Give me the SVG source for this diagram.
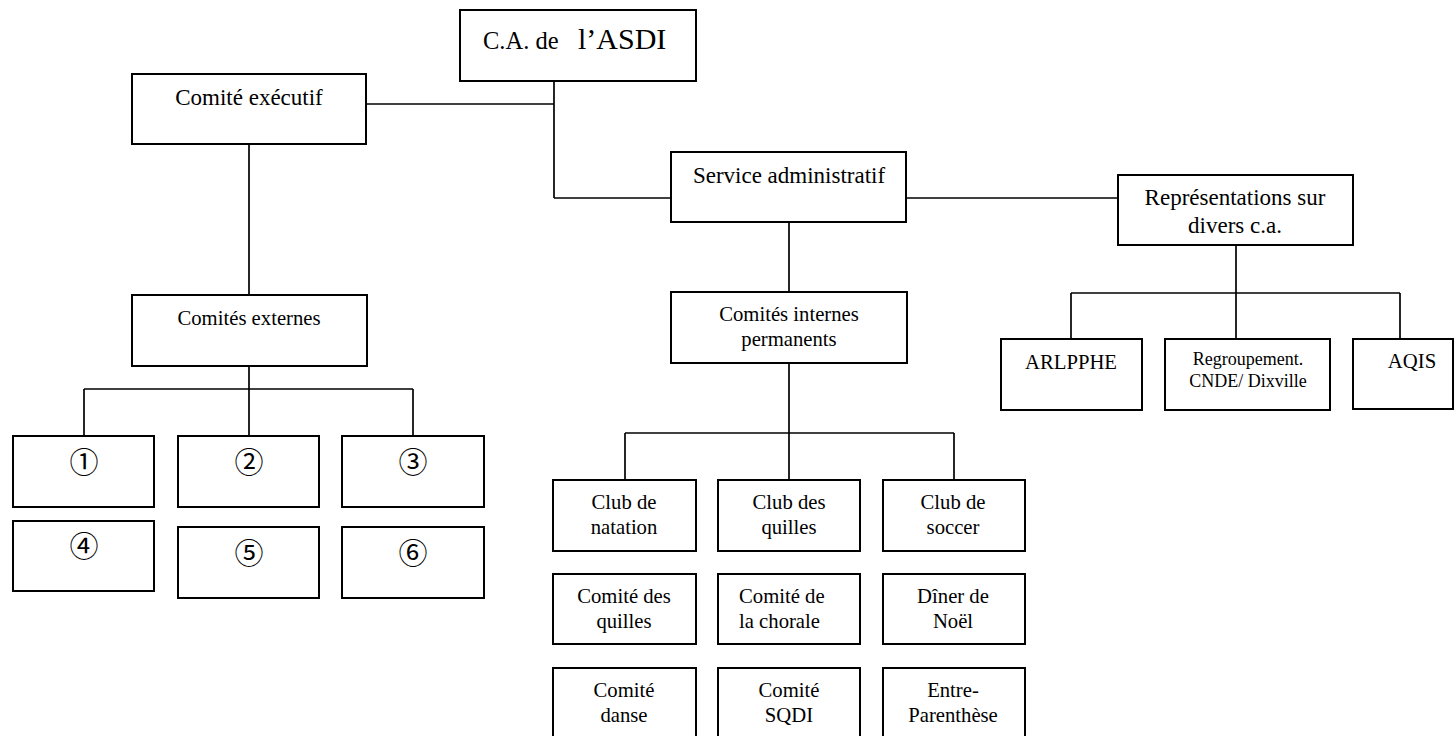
<svg xmlns="http://www.w3.org/2000/svg" width="1454" height="736" viewBox="0 0 1454 736">
<style>
rect{fill:#fff;stroke:#000;stroke-width:2}
.c line{stroke:#000;stroke-width:1.7}
text{font-family:"Liberation Serif","Times New Roman",serif;fill:#000;text-anchor:middle}
.m{font-size:23px}
.s{font-size:20.7px}
.x{font-size:18px}
.n{font-family:"Liberation Serif","Noto Sans CJK JP","DejaVu Serif",serif;font-size:29px}
</style>
<rect x="0" y="0" width="1454" height="736" style="stroke:none"/>
<g class="c" id="connectors">
<line x1="554" y1="81" x2="554" y2="198"/>
<line x1="366" y1="104" x2="554" y2="104"/>
<line x1="554" y1="198" x2="671" y2="198"/>
<line x1="906" y1="198" x2="1118" y2="198"/>
<line x1="249" y1="144" x2="249" y2="295"/>
<line x1="249" y1="366" x2="249" y2="436"/>
<line x1="84" y1="389" x2="413" y2="389"/>
<line x1="84" y1="389" x2="84" y2="436"/>
<line x1="413" y1="389" x2="413" y2="436"/>
<line x1="789" y1="222" x2="789" y2="292"/>
<line x1="789" y1="363" x2="789" y2="480"/>
<line x1="625" y1="433" x2="954" y2="433"/>
<line x1="625" y1="433" x2="625" y2="480"/>
<line x1="954" y1="433" x2="954" y2="480"/>
<line x1="1236" y1="245" x2="1236" y2="339"/>
<line x1="1071" y1="293" x2="1400" y2="293"/>
<line x1="1071" y1="293" x2="1071" y2="339"/>
<line x1="1400" y1="293" x2="1400" y2="339"/>
</g>
<g id="ca"><rect x="460" y="10" width="236" height="71"/>
<text x="483" y="49" style="text-anchor:start;font-size:24.5px">C.A. de</text>
<text x="578" y="49" style="text-anchor:start;font-size:30px">l’ASDI</text></g>
<g id="ce"><rect x="132" y="74" width="234" height="70"/><text class="m" x="249" y="105">Comité exécutif</text></g>
<g id="sa"><rect x="671" y="152" width="235" height="70"/><text class="m" x="789" y="183">Service administratif</text></g>
<g id="rep"><rect x="1118" y="175" width="235" height="70"/><text class="m" x="1235" y="205">Représentations sur</text><text class="m" x="1235" y="233">divers c.a.</text></g>
<g id="cext"><rect x="132" y="295" width="235" height="71"/><text class="s" x="249" y="325">Comités externes</text></g>
<g id="cint"><rect x="671" y="292" width="236" height="71"/><text class="s" x="789" y="321">Comités internes</text><text class="s" x="789" y="346">permanents</text></g>
<g id="arl"><rect x="1001" y="339" width="141" height="71"/><text class="s" x="1071" y="369">ARLPPHE</text></g>
<g id="reg"><rect x="1165" y="339" width="165" height="71"/><text class="x" x="1248" y="365">Regroupement.</text><text class="x" x="1248" y="387">CNDE/ Dixville</text></g>
<g id="aqis"><rect x="1353" y="339" width="100" height="70"/><text class="s" x="1412" y="368">AQIS</text></g>
<g id="e1"><rect x="13" y="436" width="141" height="71"/><text class="n" x="84" y="473">①</text></g>
<g id="e2"><rect x="178" y="436" width="141" height="71"/><text class="n" x="249" y="473">②</text></g>
<g id="e3"><rect x="342" y="436" width="142" height="71"/><text class="n" x="413" y="473">③</text></g>
<g id="e4"><rect x="13" y="521" width="141" height="70"/><text class="n" x="84" y="557">④</text></g>
<g id="e5"><rect x="178" y="527" width="141" height="71"/><text class="n" x="249" y="564">⑤</text></g>
<g id="e6"><rect x="342" y="527" width="142" height="71"/><text class="n" x="413" y="564">⑥</text></g>
<g id="i1"><rect x="553" y="480" width="143" height="71"/><text class="s" x="624" y="509">Club de</text><text class="s" x="624" y="534">natation</text></g>
<g id="i2"><rect x="718" y="480" width="142" height="71"/><text class="s" x="789" y="509">Club des</text><text class="s" x="789" y="534">quilles</text></g>
<g id="i3"><rect x="883" y="480" width="142" height="71"/><text class="s" x="953" y="509">Club de</text><text class="s" x="953" y="534">soccer</text></g>
<g id="i4"><rect x="553" y="574" width="143" height="70"/><text class="s" x="624" y="603">Comité des</text><text class="s" x="624" y="628">quilles</text></g>
<g id="i5"><rect x="718" y="574" width="142" height="70"/><text class="s" x="739" y="603" style="text-anchor:start">Comité de</text><text class="s" x="739" y="628" style="text-anchor:start">la chorale</text></g>
<g id="i6"><rect x="883" y="574" width="142" height="70"/><text class="s" x="953" y="603">Dîner de</text><text class="s" x="953" y="628">Noël</text></g>
<g id="i7"><rect x="553" y="668" width="143" height="75"/><text class="s" x="624" y="697">Comité</text><text class="s" x="624" y="722">danse</text></g>
<g id="i8"><rect x="718" y="668" width="142" height="75"/><text class="s" x="789" y="697">Comité</text><text class="s" x="789" y="722">SQDI</text></g>
<g id="i9"><rect x="883" y="668" width="142" height="75"/><text class="s" x="953" y="697">Entre-</text><text class="s" x="953" y="722">Parenthèse</text></g>
</svg>
